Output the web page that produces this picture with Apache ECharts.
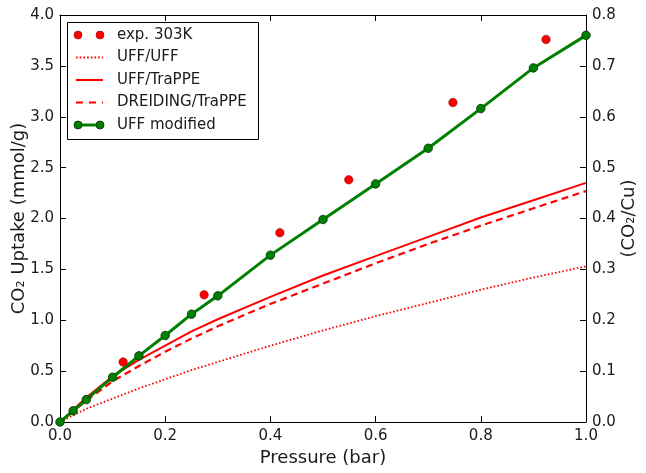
<!DOCTYPE html>
<html><head><meta charset="utf-8">
<script src="https://cdn.jsdelivr.net/npm/echarts@6/dist/echarts.min.js"></script>
<style>html,body{margin:0;padding:0;background:#fff}#c{width:646px;height:473px}</style>
</head><body><div id="c"></div>
<script>
// ---- data ----
const expP = [0.12, 0.274, 0.418, 0.549, 0.747, 0.924];
const expV = [0.59, 1.25, 1.86, 2.38, 3.14, 3.76];

const simP = [0, 0.05, 0.1, 0.15, 0.2, 0.25, 0.3, 0.4, 0.5, 0.6, 0.7, 0.8, 0.9, 1.0];
const uffUff = [0, 0.13, 0.23, 0.33, 0.42, 0.51, 0.59, 0.75, 0.90, 1.04, 1.17, 1.30, 1.42, 1.53];
const uffTrappe = [0, 0.24, 0.45, 0.61, 0.75, 0.89, 1.01, 1.23, 1.44, 1.63, 1.82, 2.01, 2.18, 2.35];
const dreidingTrappe = [0, 0.21, 0.40, 0.55, 0.69, 0.82, 0.94, 1.16, 1.36, 1.56, 1.75, 1.93, 2.10, 2.27];

const modP = [0, 0.025, 0.05, 0.1, 0.15, 0.2, 0.25, 0.3, 0.4, 0.5, 0.6, 0.7, 0.8, 0.9, 1.0];
const uffMod = [0, 0.11, 0.22, 0.44, 0.65, 0.85, 1.06, 1.24, 1.64, 1.99, 2.34, 2.69, 3.08, 3.48, 3.80];

const legendNames = ['exp. 303K', 'UFF/UFF', 'UFF/TraPPE', 'DREIDING/TraPPE', 'UFF modified'];

const zip = (a, b) => a.map((x, i) => [x, b[i]]);
const FONT = 'DejaVu Sans';
const TXT = '#1a1a1a';
const DOT = [1.6, 2.1];
const DASH = [7, 4.5];

const chart = echarts.init(document.getElementById('c'), null, {renderer: 'canvas'});

const axLine = () => ({show: true, onZero: false, lineStyle: {color: '#000', width: 1}});
const tick = () => ({show: true, inside: true, length: 6, lineStyle: {color: '#000', width: 1}});

// legend drawn with graphic elements
const lx = 76, ly0 = 35, ldy = 22.5, ltx = 117;
const gfx = [{type: 'rect', shape: {x: 67.5, y: 22.5, width: 191, height: 117},
  style: {fill: '#fff', stroke: '#000', lineWidth: 1}, z: 100}];
legendNames.forEach((n, i) => {
  const y = ly0 + i * ldy;
  gfx.push({type: 'text', x: ltx, y: y, style: {text: n, font: '15px "' + FONT + '"', fill: TXT, textVerticalAlign: 'middle'}, z: 101});
});
let y = ly0;
gfx.push({type: 'circle', shape: {cx: 78, cy: y, r: 4}, style: {fill: '#ff0000', stroke: '#700', lineWidth: 0.5}, z: 101});
gfx.push({type: 'circle', shape: {cx: 100, cy: y, r: 4}, style: {fill: '#ff0000', stroke: '#700', lineWidth: 0.5}, z: 101});
y = ly0 + ldy;
gfx.push({type: 'line', shape: {x1: lx, y1: y, x2: lx + 27, y2: y}, style: {stroke: '#ff0000', lineWidth: 1.8, lineDash: DOT}, z: 101});
y = ly0 + 2 * ldy;
gfx.push({type: 'line', shape: {x1: lx, y1: y, x2: lx + 27, y2: y}, style: {stroke: '#ff0000', lineWidth: 2}, z: 101});
y = ly0 + 3 * ldy;
gfx.push({type: 'line', shape: {x1: lx, y1: y, x2: lx + 27, y2: y}, style: {stroke: '#ff0000', lineWidth: 2.2, lineDash: [7, 6]}, z: 101});
y = ly0 + 4 * ldy;
gfx.push({type: 'line', shape: {x1: 78, y1: y, x2: 100, y2: y}, style: {stroke: '#008000', lineWidth: 3}, z: 101});
gfx.push({type: 'circle', shape: {cx: 78, cy: y, r: 4}, style: {fill: '#008000', stroke: '#003000', lineWidth: 0.8}, z: 102});
gfx.push({type: 'circle', shape: {cx: 100, cy: y, r: 4}, style: {fill: '#008000', stroke: '#003000', lineWidth: 0.8}, z: 102});

chart.setOption({
  animation: false,
  textStyle: {fontFamily: FONT},
  grid: {left: 60, right: 60, top: 15, bottom: 51, containLabel: false, outerBoundsMode: 'none'},
  xAxis: [{
    type: 'value', min: 0, max: 1, interval: 0.2, position: 'bottom',
    axisLine: axLine(), axisTick: tick(), splitLine: {show: false},
    axisLabel: {fontSize: 15, color: TXT, margin: 7, formatter: v => v.toFixed(1)},
    name: 'Pressure (bar)', nameLocation: 'middle', nameGap: 27, nameMoveOverlap: false,
    nameTextStyle: {fontSize: 18, color: TXT}
  }, {
    type: 'value', min: 0, max: 1, interval: 0.2, position: 'top',
    axisLine: axLine(), axisTick: tick(), splitLine: {show: false}, axisLabel: {show: false}
  }],
  yAxis: [{
    type: 'value', min: 0, max: 4, interval: 0.5, position: 'left',
    axisLine: axLine(), axisTick: tick(), splitLine: {show: false},
    axisLabel: {fontSize: 15, color: TXT, margin: 6, formatter: v => v.toFixed(1)},
    name: 'CO\u2082 Uptake (mmol/g)', nameLocation: 'middle', nameGap: 32, nameRotate: 90, nameMoveOverlap: false,
    nameTextStyle: {fontSize: 18, color: TXT}
  }, {
    type: 'value', min: 0, max: 0.8, interval: 0.1, position: 'right',
    axisLine: axLine(), axisTick: tick(), splitLine: {show: false},
    axisLabel: {fontSize: 15, color: TXT, margin: 6, formatter: v => v.toFixed(1)},
    name: '(CO\u2082/Cu)', nameLocation: 'middle', nameGap: 34, nameRotate: 90, nameMoveOverlap: false,
    nameTextStyle: {fontSize: 18, color: TXT}
  }],
  series: [{
    name: legendNames[1], type: 'line', data: zip(simP, uffUff), showSymbol: false, symbol: 'none',
    lineStyle: {color: '#ff0000', width: 1.8, type: DOT}, z: 2
  }, {
    name: legendNames[2], type: 'line', data: zip(simP, uffTrappe), showSymbol: false, symbol: 'none',
    lineStyle: {color: '#ff0000', width: 2}, z: 2
  }, {
    name: legendNames[3], type: 'line', data: zip(simP, dreidingTrappe), showSymbol: false, symbol: 'none',
    lineStyle: {color: '#ff0000', width: 2.2, type: DASH}, z: 2
  }, {
    name: legendNames[4], type: 'line', data: zip(modP, uffMod), symbol: 'circle', symbolSize: 8.5,
    lineStyle: {color: '#008000', width: 3}, itemStyle: {color: '#008000', borderColor: '#003000', borderWidth: 0.8}, z: 3
  }, {
    name: legendNames[0], type: 'scatter', data: zip(expP, expV), symbol: 'circle', symbolSize: 8.5,
    itemStyle: {color: '#ff0000', borderColor: '#700', borderWidth: 0.5, opacity: 1}, z: 4
  }],
  graphic: gfx
});
</script>
</body></html>
